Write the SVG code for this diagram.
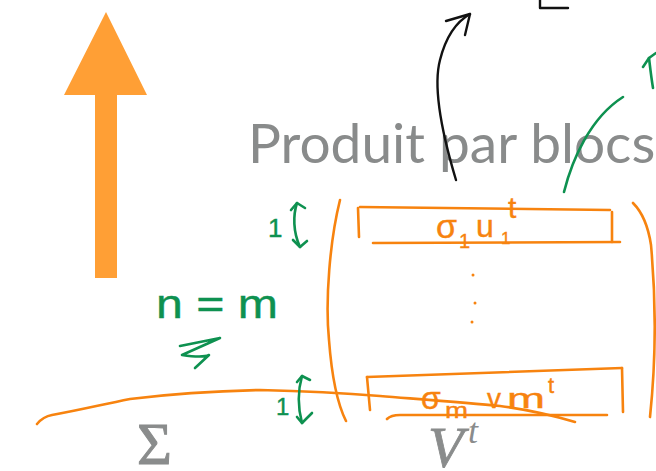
<svg xmlns="http://www.w3.org/2000/svg" width="656" height="471" viewBox="0 0 656 471">
<style>
.or{fill:none;stroke:#f7830f;stroke-width:2.6;stroke-linecap:round;stroke-linejoin:round}
.gr{fill:none;stroke:#0e9150;stroke-width:2.6;stroke-linecap:round;stroke-linejoin:round}
.bk{fill:none;stroke:#111;stroke-width:2.4;stroke-linecap:round;stroke-linejoin:round}
.hwo{fill:#f7830f;stroke:#f7830f;stroke-width:0.4;font-family:"Liberation Sans","DejaVu Sans",sans-serif}
.hwg{fill:#0e9150;stroke:#0e9150;stroke-width:0.4;font-family:"Liberation Sans","DejaVu Sans",sans-serif}
.math{fill:#8a8c8c;font-family:"Liberation Serif","DejaVu Serif",serif}
</style>
<rect width="656" height="471" fill="#fff"/>
<g id="big-arrow">
<polygon points="106,12 147,95 117,95 117,278 95,278 95,95 64,95" fill="#ff9f35"/>
</g>
<g id="title">
<text x="248" y="163" font-family="Lato,'Liberation Sans',sans-serif" font-size="55" fill="#898b8b">Produit par blocs</text>
</g>
<g id="sigma">
<text class="math" x="137" y="464" font-size="60" stroke="#8a8c8c" stroke-width="1">Σ</text>
</g>
<g id="vt">
<text class="math" x="428" y="467" font-size="58" font-style="italic" stroke="#8a8c8c" stroke-width="0.8">V</text>
<text class="math" x="468" y="443" font-size="36" font-style="italic">t</text>
</g>
<g id="connectors">
<path class="bk" d="M456,180 C444,140 432,90 440,60 C446,36 456,22 470,14"/>
<path class="bk" d="M446,21 L470,14 L465,35"/>
<path class="bk" d="M540,0 L540,8 L568,8"/>
<path class="gr" d="M564,192 C572,160 590,118 623,97"/>
<path class="gr" d="M653,88 C651,76 650,66 649,58"/>
<path class="gr" d="M643,67 L649,58 L656,53"/>
</g>
<g id="matrix">
<path class="or" d="M340,200 C330,240 325,300 329,340 C332,380 338,405 346,421"/>
<path class="or" d="M633,203 C642,212 648,225 651,245 C656,300 656,360 650,417"/>
<path class="or" d="M360,207 L610,210"/>
<path class="or" d="M358,208 L359,237"/>
<path class="or" d="M612,212 L612,242"/>
<path class="or" d="M373,243 L620,242"/>
<path class="or" d="M367,377 L622,368"/>
<path class="or" d="M367,377 L370,410"/>
<path class="or" d="M622,368 L623,412"/>
<path class="or" d="M387,419 C390,416 394,415 400,415 L607,415"/>
<circle cx="473" cy="275" r="1.5" fill="#f7830f"/>
<circle cx="475" cy="303" r="1.5" fill="#f7830f"/>
<circle cx="472" cy="322" r="1.5" fill="#f7830f"/>
<path class="or" d="M37,424 C42,418 46,416 52,415 C80,410 100,405 130,399 C170,394 210,391 260,390 C300,391 330,392 380,396 C430,400 470,403 500,406 C530,410 555,416 575,422"/>
</g>
<g id="row1-label">
<text class="hwo" x="436" y="238" font-size="34">σ</text>
<text class="hwo" x="459" y="248" font-size="20">1</text>
<text class="hwo" x="476" y="237" font-size="32">u</text>
<text class="hwo" x="501" y="244" font-size="17">1</text>
<text class="hwo" x="508" y="218" font-size="30">t</text>
</g>
<g id="rowm-label">
<text class="hwo" x="421" y="409" font-size="32">σ</text>
<text class="hwo" x="445" y="418" font-size="22" textLength="23" lengthAdjust="spacingAndGlyphs">m</text>
<text class="hwo" x="487" y="408" font-size="28">v</text>
<text class="hwo" x="507" y="408" font-size="28" textLength="38" lengthAdjust="spacingAndGlyphs">m</text>
<text class="hwo" x="548" y="393" font-size="22">t</text>
</g>
<g id="green-notes">
<text class="hwg" x="268" y="237" font-size="26">1</text>
<path class="gr" d="M297,203 C293,215 293,232 300,247"/>
<path class="gr" d="M291,210 L297,203 L305,208"/>
<path class="gr" d="M293,240 L300,247 L307,241"/>
<text class="hwg" x="276" y="415" font-size="24">1</text>
<path class="gr" d="M302,376 C298,390 298,408 302,423"/>
<path class="gr" d="M297,382 L302,376 L310,380"/>
<path class="gr" d="M297,417 L302,423 L312,413"/>
<text class="hwg" x="156" y="318" font-size="40" textLength="122" lengthAdjust="spacingAndGlyphs">n = m</text>
<path class="gr" d="M180,346 C195,343 210,340 220,338 L182,355 C195,357 205,357 209,355 L195,368"/>
</g>
</svg>
